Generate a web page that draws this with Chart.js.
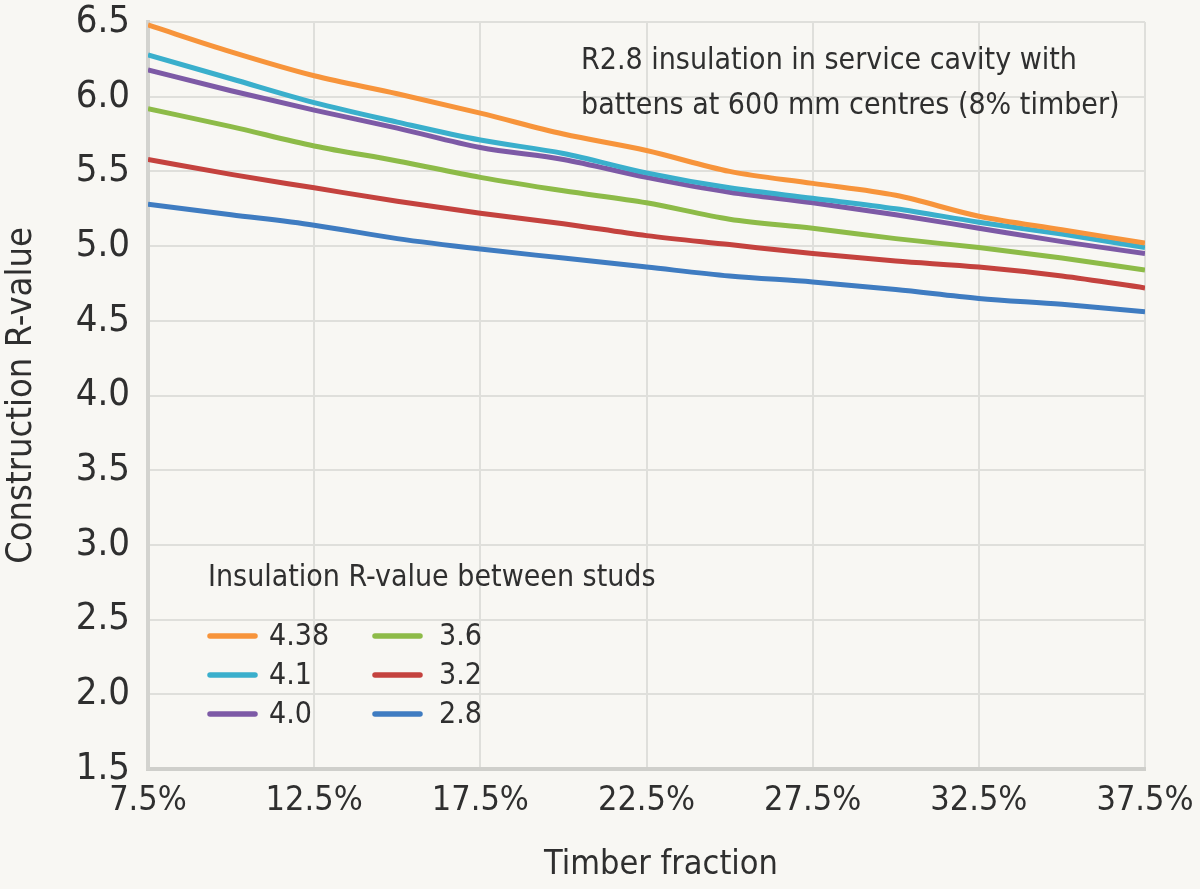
<!DOCTYPE html>
<html>
<head>
<meta charset="utf-8">
<script src="https://cdn.jsdelivr.net/npm/chart.js@4/dist/chart.umd.min.js"></script>
<style>
  html, body { margin: 0; padding: 0; background: #f8f7f3; }
  #wrap { width: 1200px; height: 889px; position: relative; }
</style>
</head>
<body>
<div id="wrap"><canvas id="c" width="1200" height="889"></canvas></div>
<script>
const timberFraction = [7.5, 10, 12.5, 15, 17.5, 20, 22.5, 25, 27.5, 30, 32.5, 35, 37.5];
const seriesLabels = ['4.38', '4.1', '4.0', '3.6', '3.2', '2.8'];
const r438 = [6.48, 6.30, 6.14, 6.02, 5.89, 5.75, 5.64, 5.50, 5.42, 5.34, 5.20, 5.11, 5.02];
const r41  = [6.28, 6.12, 5.96, 5.83, 5.71, 5.62, 5.49, 5.39, 5.32, 5.25, 5.16, 5.08, 4.99];
const r40  = [6.18, 6.04, 5.91, 5.79, 5.66, 5.58, 5.46, 5.36, 5.29, 5.21, 5.12, 5.03, 4.95];
const r36  = [5.92, 5.80, 5.67, 5.57, 5.46, 5.37, 5.29, 5.18, 5.12, 5.05, 4.99, 4.92, 4.84];
const r32  = [5.58, 5.48, 5.39, 5.30, 5.22, 5.15, 5.07, 5.01, 4.95, 4.90, 4.86, 4.80, 4.72];
const r28  = [5.28, 5.21, 5.14, 5.05, 4.98, 4.92, 4.86, 4.80, 4.76, 4.71, 4.65, 4.61, 4.56];
const xTicks = ['7.5%', '12.5%', '17.5%', '22.5%', '27.5%', '32.5%', '37.5%'];
const yTicks = ['1.5', '2.0', '2.5', '3.0', '3.5', '4.0', '4.5', '5.0', '5.5', '6.0', '6.5'];
const legendTitle = 'Insulation R-value between studs';
const noteLines = ['R2.8 insulation in service cavity with', 'battens at 600 mm centres (8% timber)'];
const xTitle = 'Timber fraction';
const yTitle = 'Construction R-value';

const colors = ['#f7943b', '#3aafcc', '#7d5aa6', '#8dbb48', '#c4423e', '#3f7cc1'];
const allValues = [r438, r41, r40, r36, r32, r28];
const FONT = "'Liberation Sans Narrow', 'DejaVu Sans Condensed', 'Roboto Condensed', 'Liberation Sans', sans-serif";
const TEXT = '#2f2f2f';

const datasets = allValues.map((vals, i) => ({
  label: seriesLabels[i],
  data: vals.map((v, j) => ({ x: timberFraction[j], y: v })),
  borderColor: colors[i],
  backgroundColor: colors[i],
  borderWidth: 5,
  pointRadius: 0,
  cubicInterpolationMode: 'monotone',
  fill: false,
  order: i
}));

const customText = {
  id: 'customText',
  afterDatasetsDraw(chart) {
    const ctx = chart.ctx;
    ctx.save();
    ctx.fillStyle = TEXT;
    ctx.textBaseline = 'middle';
    ctx.textAlign = 'left';
    ctx.font = `30px ${FONT}`;
    ctx.fillText(noteLines[0], 581, 61);
    ctx.fillText(noteLines[1], 581, 106);
    // legend
    ctx.fillText(legendTitle, 208, 578);
    const rows = [636, 675, 714];
    const cols = [{ lx: 210, tx: 269 }, { lx: 375, tx: 439 }];
    chart.data.datasets.forEach((ds, i) => {
      const col = cols[Math.floor(i / 3)];
      const y = rows[i % 3];
      ctx.strokeStyle = ds.borderColor;
      ctx.lineWidth = 5.5;
      ctx.lineCap = 'round';
      ctx.beginPath();
      ctx.moveTo(col.lx, y);
      ctx.lineTo(col.lx + 45, y);
      ctx.stroke();
      ctx.fillText(ds.label, col.tx, y + 1);
    });
    // x axis title
    ctx.textAlign = 'center';
    ctx.font = `34px ${FONT}`;
    ctx.fillText(xTitle, 661, 865);
    ctx.restore();
  }
};

new Chart(document.getElementById('c'), {
  type: 'line',
  data: { datasets },
  plugins: [customText],
  options: {
    responsive: false,
    animation: false,
    layout: { padding: 0 },
    plugins: { legend: { display: false }, tooltip: { enabled: false } },
    scales: {
      x: {
        type: 'linear',
        min: 7.5, max: 37.5,
        afterBuildTicks(scale) {
          scale.ticks = xTicks.map(t => ({ value: parseFloat(t) }));
        },
        afterFit(scale) {
          scale.height = 120;
          scale.paddingRight = 55;
          scale.paddingLeft = 0;
        },
        ticks: {
          callback: (v) => xTicks.find(t => parseFloat(t) === v) || '',
          color: TEXT,
          font: { family: FONT, size: 34 },
          padding: 12,
          maxRotation: 0,
          autoSkip: false
        },
        grid: { color: '#dfdfdb', lineWidth: 2, drawTicks: false },
        border: { display: true, color: '#cfcfcb', width: 4 }
      },
      y: {
        type: 'linear',
        min: 1.5, max: 6.5,
        afterBuildTicks(scale) {
          scale.ticks = yTicks.map(t => ({ value: parseFloat(t) }));
        },
        afterFit(scale) {
          scale.width = 148;
          scale.paddingTop = 22;
          scale.paddingBottom = 0;
        },
        ticks: {
          callback: (v) => yTicks.find(t => parseFloat(t) === v) || '',
          color: TEXT,
          font: { family: FONT, size: 38 },
          padding: 18
        },
        grid: { color: '#dfdfdb', lineWidth: 2, drawTicks: false },
        border: { display: true, color: '#d3d3cf', width: 4 },
        title: {
          display: true, text: yTitle, color: TEXT,
          font: { family: FONT, size: 36 }, padding: { bottom: 0, top: 0 }
        }
      }
    }
  }
});
</script>
</body>
</html>
